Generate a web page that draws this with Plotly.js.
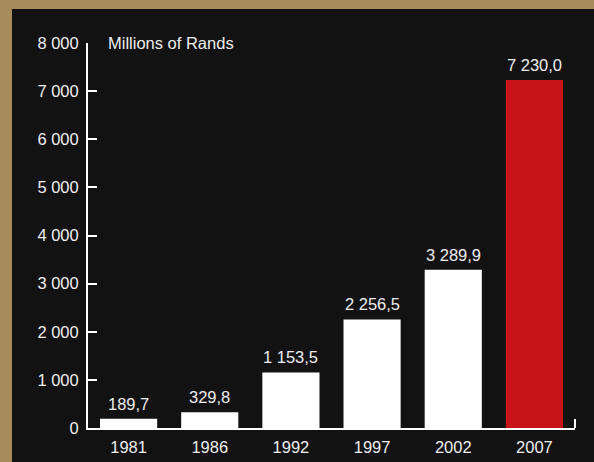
<!DOCTYPE html>
<html><head><meta charset="utf-8">
<script src="https://cdn.plot.ly/plotly-3.0.1.min.js"></script>
<style>
html,body{margin:0;padding:0;background:#A88B5A;width:594px;height:462px;overflow:hidden;}
#chart{position:absolute;left:12px;top:9px;width:582px;height:453px;}
</style></head><body>
<div id="chart"></div>
<script>
const years = ['1981','1986','1992','1997','2002','2007'];
const values = [189.7, 329.8, 1153.5, 2256.5, 3289.9, 7230.0];
const barColors = ['#ffffff','#ffffff','#ffffff','#ffffff','#ffffff','#C71418'];
const yTicks = [0,1000,2000,3000,4000,5000,6000,7000,8000];
const unitLabel = 'Millions of Rands';

const font = {family:'"Liberation Sans", Arial, sans-serif', size:16.5, color:'#eeeeee'};

const trace = {
  type:'bar', x:years, y:values,
  marker:{color:barColors, line:{width:0}},
  hoverinfo:'none'
};

function fmt(v){
  const parts = v.toFixed(1).split('.');
  const intp = parts[0].replace(/\B(?=(\d{3})+(?!\d))/g,' ');
  return intp + ',' + parts[1];
}
const barLabels = years.map((yr,i)=>({
  x:i, y:values[i], xref:'x', yref:'y', text:fmt(values[i]),
  showarrow:false, yanchor:'bottom', yshift:4, font:font
}));

const layout = {
  width:582, height:453,
  margin:{l:76, r:19, t:34.3, b:34.3},
  paper_bgcolor:'#121212', plot_bgcolor:'#121212',
  separators:', ',
  font:font,
  bargap:0.296,
  showlegend:false,
  xaxis:{
    type:'category', range:[-0.5,5.5], showgrid:false, zeroline:false,
    showline:true, linecolor:'#ffffff', linewidth:2,
    ticks:'', tickfont:font, ticklabelstandoff:3, fixedrange:true
  },
  yaxis:{
    range:[0,8000], tickvals:yTicks, tickformat:',d',
    showgrid:false, zeroline:false,
    showline:true, linecolor:'#ffffff', linewidth:2,
    ticks:'inside', ticklen:9, tickwidth:2, tickcolor:'#ffffff',
    ticklabelstandoff:4,
    tickfont:font, fixedrange:true
  },
  shapes:[{
    type:'line', xref:'paper', yref:'y', ysizemode:'pixel', yanchor:0,
    x0:1, x1:1, y0:0, y1:9, line:{color:'#ffffff', width:2}
  }],
  annotations:[{
    xref:'paper', yref:'y', x:0, xshift:18, y:8000, xanchor:'left', yanchor:'middle',
    text:unitLabel, showarrow:false, font:font
  }].concat(barLabels)
};

Plotly.newPlot('chart',[trace],layout,{displayModeBar:false,staticPlot:true});
</script>
</body></html>
